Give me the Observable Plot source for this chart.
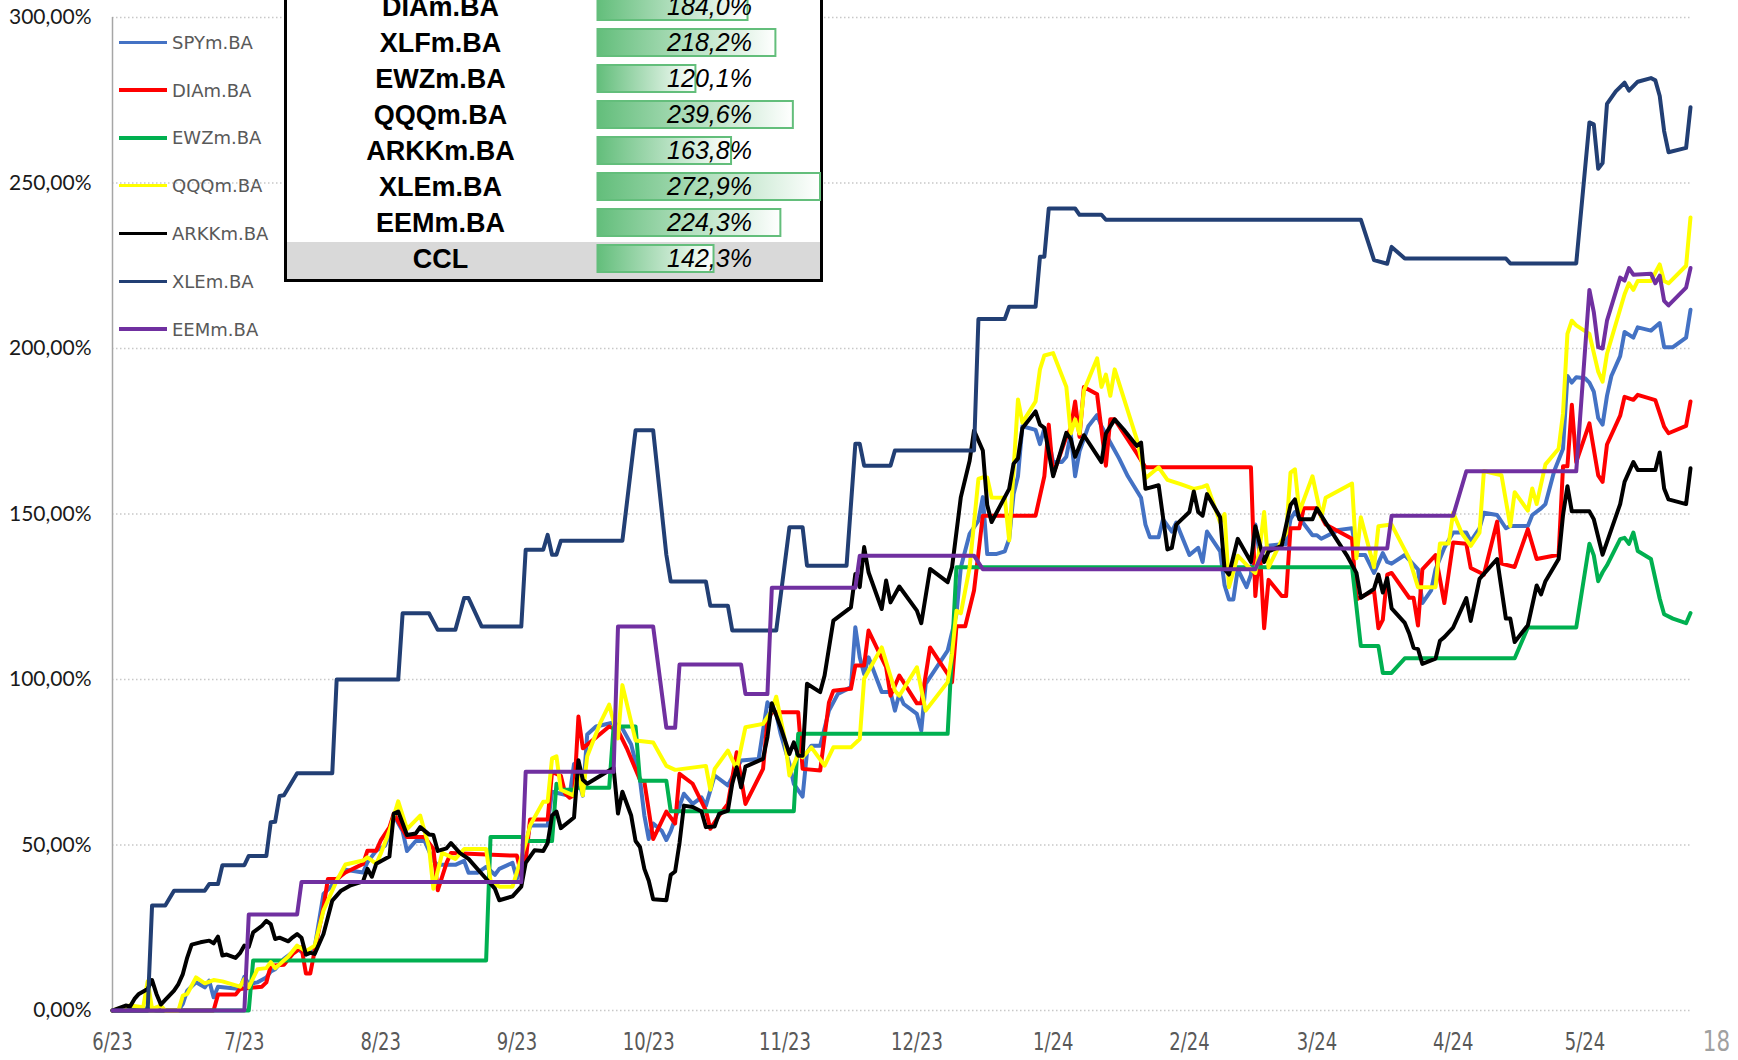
<!DOCTYPE html>
<html><head><meta charset="utf-8">
<script src="https://cdn.jsdelivr.net/npm/d3@7"></script>
<script src="https://cdn.jsdelivr.net/npm/@observablehq/plot@0.6"></script>
<style>
html,body{margin:0;padding:0;background:#fff;}
#wrap{position:relative;width:1738px;height:1060px;overflow:hidden;background:#fff;}
#chart{position:absolute;left:0;top:0;}
.lg-row{position:absolute;left:119px;height:24px;display:flex;align-items:center;}
.lg-line{width:48px;height:3.5px;margin-right:5px;}
.lg-text{font-family:"DejaVu Sans",sans-serif;font-size:18px;color:#595959;white-space:nowrap;}
#table{position:absolute;left:284px;top:-14px;width:533px;height:293px;background:#fff;border-left:3px solid #000;border-right:3px solid #000;border-bottom:3px solid #000;}
#cclRow{position:absolute;left:0;width:533px;top:256.4px;height:36.6px;background:#d9d9d9;}
#tplot{position:absolute;left:0;top:0;}
#pnum{position:absolute;right:8px;top:1025px;font-family:"DejaVu Sans Condensed","DejaVu Sans",sans-serif;font-size:28px;color:#a0a0a0;transform:scaleX(0.85);transform-origin:right center;}
</style>
</head><body>
<div id="wrap">
  <div id="chart"></div>
  <div id="legend"></div>
  <div id="table"><div id="cclRow"></div><div id="tplot"></div></div>
  <div id="pnum">18</div>
</div>
<script>
const seriesNames = ["SPYm.BA","DIAm.BA","EWZm.BA","QQQm.BA","ARKKm.BA","XLEm.BA","EEMm.BA"];
const seriesColors = ["#4472C4","#FF0000","#00B050","#FFFF00","#000000","#223F74","#7030A0"];
const monthTicks = ["2023-06-01","2023-07-01","2023-08-01","2023-09-01","2023-10-01","2023-11-01","2023-12-01","2024-01-01","2024-02-01","2024-03-01","2024-04-01","2024-05-01"];
const xDomain = ["2023-06-01","2024-05-25"];
const yTicks = [0,50,100,150,200,250,300];
const tableNames = ["DIAm.BA","XLFm.BA","EWZm.BA","QQQm.BA","ARKKm.BA","XLEm.BA","EEMm.BA","CCL"];
const tableValues = [184.0,218.2,120.1,239.6,163.8,272.9,224.3,142.3];

const spy = [["2023-06-01",0],["2023-06-06",1],["2023-06-09",0.5],["2023-06-11",0],["2023-06-16",0],["2023-06-17",2],["2023-06-18",6],["2023-06-20",8.5],["2023-06-22",7],["2023-06-23",9],["2023-06-24",4],["2023-06-25",7.2],["2023-06-30",6.5],["2023-07-01",10.2],["2023-07-02",8],["2023-07-04",8.5],["2023-07-06",10],["2023-07-07",11.8],["2023-07-08",12.5],["2023-07-10",15.6],["2023-07-13",18.6],["2023-07-15",16.9],["2023-07-17",19.1],["2023-07-19",35.2],["2023-07-22",39.2],["2023-07-24",42.5],["2023-07-28",41.7],["2023-07-29",44.8],["2023-07-31",48.3],["2023-08-02",49.8],["2023-08-03",53],["2023-08-04",59],["2023-08-06",54.2],["2023-08-07",48.2],["2023-08-09",51.2],["2023-08-11",51.2],["2023-08-13",45.2],["2023-08-14",44],["2023-08-18",44],["2023-08-20",45.2],["2023-08-21",41.6],["2023-08-23",41.6],["2023-08-25",43.4],["2023-08-27",41],["2023-08-28",42.8],["2023-08-31",44.6],["2023-09-01",39.8],["2023-09-02",43.4],["2023-09-04",55.9],["2023-09-08",55.9],["2023-09-09",66.1],["2023-09-11",65.5],["2023-09-13",64.9],["2023-09-14",74.5],["2023-09-16",64.9],["2023-09-17",83.4],["2023-09-19",85.8],["2023-09-23",87],["2023-09-25",85.2],["2023-09-27",80.4],["2023-09-29",69.7],["2023-09-30",58.9],["2023-10-01",51.8],["2023-10-02",56.5],["2023-10-04",54.2],["2023-10-05",51.5],["2023-10-06",54.2],["2023-10-09",65.5],["2023-10-11",62.4],["2023-10-13",64.4],["2023-10-14",61.9],["2023-10-16",71],["2023-10-19",68],["2023-10-21",73],["2023-10-22",75.5],["2023-10-26",76],["2023-10-27",84.6],["2023-10-28",93.1],["2023-10-30",89.6],["2023-10-31",83.6],["2023-11-02",74.5],["2023-11-03",68.5],["2023-11-05",64.6],["2023-11-06",78],["2023-11-07",80],["2023-11-09",80],["2023-11-11",90.6],["2023-11-13",95.6],["2023-11-16",97.7],["2023-11-17",115.8],["2023-11-18",106.7],["2023-11-19",101.7],["2023-11-20",106.7],["2023-11-22",99.7],["2023-11-23",96.2],["2023-11-25",96.2],["2023-11-26",90.6],["2023-11-27",95.6],["2023-11-28",92.6],["2023-12-01",89.6],["2023-12-02",84.6],["2023-12-03",98.7],["2023-12-05",102.7],["2023-12-08",108.7],["2023-12-10",119.8],["2023-12-11",133.9],["2023-12-13",144],["2023-12-15",148],["2023-12-16",155.1],["2023-12-17",137.9],["2023-12-19",137.9],["2023-12-21",138.7],["2023-12-22",142.5],["2023-12-23",156],["2023-12-24",161.4],["2023-12-25",176.5],["2023-12-28",175.4],["2023-12-29",171.1],["2023-12-30",175.9],["2023-12-31",172.2],["2024-01-01",165.7],["2024-01-03",165.7],["2024-01-04",167.3],["2024-01-05",174.3],["2024-01-06",161.4],["2024-01-07",168.9],["2024-01-09",176.5],["2024-01-11",179.9],["2024-01-12",176.5],["2024-01-14",171.6],["2024-01-16",166.8],["2024-01-18",161.4],["2024-01-21",154.9],["2024-01-22",146.8],["2024-01-23",143],["2024-01-25",143],["2024-01-26",148.4],["2024-01-28",144.7],["2024-01-29",147.4],["2024-02-01",137.6],["2024-02-03",139.8],["2024-02-04",135.5],["2024-02-05",144.7],["2024-02-08",138.7],["2024-02-09",128.5],["2024-02-10",124.2],["2024-02-11",124.2],["2024-02-12",133.3],["2024-02-14",127.9],["2024-02-15",131.7],["2024-02-16",146.8],["2024-02-17",137.6],["2024-02-19",140.4],["2024-02-22",140.9],["2024-02-23",140.9],["2024-02-24",148.4],["2024-02-25",150.6],["2024-02-29",143.6],["2024-03-01",143.6],["2024-03-02",142.5],["2024-03-06",145.2],["2024-03-09",145.7],["2024-03-10",137.6],["2024-03-12",137.6],["2024-03-14",132.2],["2024-03-16",138.2],["2024-03-17",135.5],["2024-03-18",135],["2024-03-21",137.6],["2024-03-24",133.3],["2024-03-25",123.1],["2024-03-27",126.9],["2024-03-28",133.3],["2024-03-30",139.8],["2024-04-01",144.4],["2024-04-04",144.4],["2024-04-05",141.7],["2024-04-07",145.7],["2024-04-08",150.4],["2024-04-11",149.7],["2024-04-13",145.7],["2024-04-14",146.4],["2024-04-18",146.4],["2024-04-19",149.7],["2024-04-21",151.7],["2024-04-22",153],["2024-04-24",163],["2024-04-26",169.7],["2024-04-27",191.7],["2024-04-28",189.7],["2024-04-29",191.3],["2024-05-01",191],["2024-05-02",189.7],["2024-05-03",187],["2024-05-04",179],["2024-05-05",177],["2024-05-06",185.7],["2024-05-07",191.7],["2024-05-09",197.7],["2024-05-10",205],["2024-05-12",203.3],["2024-05-13",206.4],["2024-05-16",205.4],["2024-05-18",207.7],["2024-05-19",200.4],["2024-05-21",200.4],["2024-05-24",203.3],["2024-05-25",211.7]];

const dia = [["2023-06-01",0],["2023-06-24",0],["2023-06-25",4.8],["2023-06-29",4.8],["2023-06-30",6.5],["2023-07-05",7.2],["2023-07-06",8.5],["2023-07-07",13.5],["2023-07-10",13.8],["2023-07-12",17.1],["2023-07-14",19.1],["2023-07-15",11.2],["2023-07-16",11.2],["2023-07-17",18.1],["2023-07-19",31.2],["2023-07-20",39.7],["2023-07-22",39.7],["2023-07-24",41.7],["2023-07-28",44.3],["2023-07-29",48.3],["2023-07-31",48.3],["2023-08-01",51.3],["2023-08-03",55.3],["2023-08-04",59.5],["2023-08-07",52.4],["2023-08-11",52.4],["2023-08-13",48.8],["2023-08-14",36.3],["2023-08-16",44.6],["2023-08-17",47.6],["2023-08-31",46.8],["2023-09-01",46.8],["2023-09-02",41],["2023-09-03",45],["2023-09-04",57.7],["2023-09-08",57.7],["2023-09-09",72.1],["2023-09-11",70.9],["2023-09-12",65.5],["2023-09-13",64.3],["2023-09-14",65],["2023-09-15",88.8],["2023-09-16",79.2],["2023-09-22",85.8],["2023-09-24",84.6],["2023-09-26",79.2],["2023-09-29",69.7],["2023-09-30",69.1],["2023-10-02",51.8],["2023-10-05",60.1],["2023-10-07",56.5],["2023-10-08",71.5],["2023-10-11",68.5],["2023-10-14",60.4],["2023-10-15",54.9],["2023-10-17",58.9],["2023-10-19",62.4],["2023-10-21",78],["2023-10-23",62.4],["2023-10-27",73],["2023-10-28",87.6],["2023-10-29",90.1],["2023-11-04",90.1],["2023-11-05",73],["2023-11-09",72.5],["2023-11-11",93.1],["2023-11-12",96.6],["2023-11-16",97.2],["2023-11-17",104.2],["2023-11-19",104.2],["2023-11-20",114.8],["2023-11-24",103.7],["2023-11-25",95.1],["2023-11-27",101.2],["2023-12-01",92.8],["2023-12-02",92.8],["2023-12-04",109.7],["2023-12-08",101.7],["2023-12-09",99.2],["2023-12-10",116.1],["2023-12-12",116.1],["2023-12-14",126.9],["2023-12-16",149.5],["2023-12-28",149.5],["2023-12-30",161.4],["2023-12-31",177],["2024-01-01",161.9],["2024-01-04",173.3],["2024-01-05",175.9],["2024-01-06",184],["2024-01-07",173.3],["2024-01-08",188.4],["2024-01-11",186.2],["2024-01-13",164.6],["2024-01-14",178.6],["2024-01-15",178.6],["2024-01-20",168.4],["2024-01-22",164.1],["2024-02-15",164.1],["2024-02-16",125.2],["2024-02-17",139.8],["2024-02-18",115.5],["2024-02-19",130.1],["2024-02-22",125.2],["2024-02-23",125.2],["2024-02-24",145.7],["2024-02-26",145.7],["2024-02-27",151.7],["2024-03-01",151.7],["2024-03-03",146.8],["2024-03-09",142.5],["2024-03-10",124.2],["2024-03-14",126.9],["2024-03-15",115.5],["2024-03-16",118],["2024-03-17",131.7],["2024-03-18",132.2],["2024-03-22",124.7],["2024-03-23",124.7],["2024-03-24",116.3],["2024-03-25",133.3],["2024-03-28",137.6],["2024-03-30",123.1],["2024-04-01",141.4],["2024-04-04",141],["2024-04-05",133.7],["2024-04-08",131.7],["2024-04-11",147.7],["2024-04-12",135],["2024-04-15",134],["2024-04-18",145.4],["2024-04-20",136.4],["2024-04-25",137.7],["2024-04-26",164.4],["2024-04-27",164.4],["2024-04-28",183],["2024-04-29",165.7],["2024-05-02",177.4],["2024-05-04",161.7],["2024-05-05",159.7],["2024-05-06",171],["2024-05-09",179.7],["2024-05-10",185.4],["2024-05-12",184.5],["2024-05-13",186],["2024-05-17",184.4],["2024-05-18",180.4],["2024-05-19",176.4],["2024-05-20",174.4],["2024-05-24",176.6],["2024-05-25",184]];

const ewz = [["2023-06-01",0],["2023-07-02",0],["2023-07-03",15.1],["2023-08-25",15.1],["2023-08-26",52.4],["2023-09-02",52.4],["2023-09-03",51.2],["2023-09-09",51.2],["2023-09-10",68.5],["2023-09-11",66.7],["2023-09-14",66.7],["2023-09-15",67.3],["2023-09-22",67.3],["2023-09-23",85.8],["2023-09-28",85.8],["2023-09-29",69.4],["2023-10-05",69.4],["2023-10-06",60.2],["2023-11-03",60.2],["2023-11-04",83.6],["2023-12-08",83.6],["2023-12-10",133.9],["2024-03-09",133.9],["2024-03-11",110.1],["2024-03-15",110.1],["2024-03-16",102],["2024-03-18",102],["2024-03-21",106.4],["2024-04-15",106.4],["2024-04-18",115.7],["2024-04-29",115.7],["2024-05-02",141],["2024-05-03",137.5],["2024-05-04",129.7],["2024-05-05",132.4],["2024-05-06",134.5],["2024-05-09",142.4],["2024-05-10",142.8],["2024-05-11",141],["2024-05-12",144.4],["2024-05-13",138.8],["2024-05-16",136.4],["2024-05-18",124.4],["2024-05-19",119.7],["2024-05-21",118.4],["2024-05-24",117],["2024-05-25",120.1]];

const qqq = [["2023-06-01",0],["2023-06-05",1.5],["2023-06-08",1],["2023-06-09",8.8],["2023-06-10",0.5],["2023-06-12",1.5],["2023-06-13",0],["2023-06-16",0],["2023-06-17",4.5],["2023-06-18",5],["2023-06-20",10],["2023-06-22",8.2],["2023-06-24",9.2],["2023-06-26",8.8],["2023-06-30",7.2],["2023-07-01",9.5],["2023-07-02",7],["2023-07-04",12.5],["2023-07-06",12.8],["2023-07-07",14.6],["2023-07-08",12.8],["2023-07-11",16.3],["2023-07-13",19.6],["2023-07-15",17.9],["2023-07-17",19.6],["2023-07-19",30.2],["2023-07-22",39.2],["2023-07-24",44.1],["2023-07-28",45.3],["2023-07-29",46.3],["2023-07-31",44.3],["2023-08-01",47.3],["2023-08-03",54.3],["2023-08-05",63.2],["2023-08-07",54.8],["2023-08-10",58.9],["2023-08-12",49.4],["2023-08-13",36.8],["2023-08-15",47.6],["2023-08-18",45.8],["2023-08-20",48.8],["2023-08-25",48.8],["2023-08-26",39.2],["2023-08-28",37.4],["2023-08-31",37.4],["2023-09-03",50.6],["2023-09-04",55.9],["2023-09-07",63.1],["2023-09-08",63.1],["2023-09-09",76.2],["2023-09-10",76.8],["2023-09-11",66.7],["2023-09-14",64.9],["2023-09-15",72.7],["2023-09-16",65],["2023-09-17",76.8],["2023-09-20",87],["2023-09-22",92.4],["2023-09-24",82.2],["2023-09-25",98.3],["2023-09-28",81.6],["2023-10-02",81],["2023-10-05",73.9],["2023-10-07",72.7],["2023-10-14",73.9],["2023-10-15",66.7],["2023-10-16",73],["2023-10-19",78.5],["2023-10-21",73],["2023-10-23",85.6],["2023-10-27",86.6],["2023-10-29",90.6],["2023-10-30",94.8],["2023-11-01",81.5],["2023-11-02",71],["2023-11-04",77.5],["2023-11-05",76.5],["2023-11-07",79.5],["2023-11-10",74],["2023-11-12",79.5],["2023-11-16",79.5],["2023-11-18",82],["2023-11-19",100.2],["2023-11-23",109.7],["2023-11-26",96.6],["2023-11-27",95.1],["2023-12-01",103.7],["2023-12-03",90.6],["2023-12-08",99.2],["2023-12-09",107.7],["2023-12-10",120.8],["2023-12-11",120],["2023-12-13",133.9],["2023-12-15",160.6],["2023-12-16",161.1],["2023-12-17",161],["2023-12-18",155],["2023-12-21",154.9],["2023-12-22",142],["2023-12-24",184.6],["2023-12-25",177.6],["2023-12-28",184],["2023-12-29",193.7],["2023-12-30",197.9],["2024-01-01",198.6],["2024-01-04",188.4],["2024-01-05",174.3],["2024-01-06",178.6],["2024-01-07",174.3],["2024-01-08",187.3],["2024-01-11",197],["2024-01-12",188.4],["2024-01-13",192.1],["2024-01-14",185.7],["2024-01-15",193.7],["2024-01-20",172.7],["2024-01-22",160.8],["2024-01-25",164.1],["2024-01-27",160.3],["2024-01-30",159],["2024-02-02",157.6],["2024-02-04",158.2],["2024-02-05",158.7],["2024-02-08",147.4],["2024-02-09",150],["2024-02-10",127.9],["2024-02-12",137.4],["2024-02-15",133.3],["2024-02-16",132.2],["2024-02-17",139.8],["2024-02-18",150.6],["2024-02-19",133.9],["2024-02-22",142],["2024-02-23",144.1],["2024-02-24",162.5],["2024-02-25",163.5],["2024-02-26",150.6],["2024-02-29",161.4],["2024-03-02",149],["2024-03-03",154.9],["2024-03-09",159.2],["2024-03-10",136.6],["2024-03-11",149],["2024-03-14",133.9],["2024-03-15",146.3],["2024-03-18",146.8],["2024-03-22",136.6],["2024-03-24",127.9],["2024-03-28",127.9],["2024-03-29",141.1],["2024-03-31",141.1],["2024-04-01",150.4],["2024-04-03",144.1],["2024-04-05",140.4],["2024-04-07",144.4],["2024-04-08",163],["2024-04-12",161.7],["2024-04-14",146.4],["2024-04-15",156.6],["2024-04-18",151],["2024-04-19",157.7],["2024-04-20",153],["2024-04-22",165],["2024-04-25",169.7],["2024-04-26",180.4],["2024-04-27",204.4],["2024-04-28",208.4],["2024-04-29",207],["2024-05-02",204.4],["2024-05-04",193],["2024-05-05",190],["2024-05-06",198.4],["2024-05-10",216.4],["2024-05-11",219.7],["2024-05-12",217.7],["2024-05-13",220.4],["2024-05-16",220.4],["2024-05-18",225.4],["2024-05-19",220.4],["2024-05-20",219.7],["2024-05-24",225],["2024-05-25",239.6]];

const arkk = [["2023-06-01",0],["2023-06-02",0.5],["2023-06-04",1.5],["2023-06-05",1.2],["2023-06-06",3.5],["2023-06-07",5],["2023-06-09",6.5],["2023-06-10",9.2],["2023-06-11",5],["2023-06-12",1.8],["2023-06-13",3.2],["2023-06-15",6],["2023-06-16",8],["2023-06-17",11],["2023-06-18",16],["2023-06-19",19.9],["2023-06-21",20.6],["2023-06-23",21.1],["2023-06-24",20.3],["2023-06-25",22.3],["2023-06-26",16.6],["2023-06-27",16.9],["2023-06-29",15.9],["2023-06-30",17.3],["2023-07-01",19.6],["2023-07-02",19.2],["2023-07-03",23.6],["2023-07-05",25.6],["2023-07-06",27.1],["2023-07-07",26.1],["2023-07-08",21.6],["2023-07-09",22],["2023-07-11",20.9],["2023-07-12",22.1],["2023-07-13",23.1],["2023-07-14",22],["2023-07-15",16.9],["2023-07-16",17.4],["2023-07-17",17.1],["2023-07-19",23.1],["2023-07-20",28.2],["2023-07-21",33.2],["2023-07-23",36.2],["2023-07-25",37.7],["2023-07-28",39],["2023-07-29",42.8],["2023-07-30",40.4],["2023-07-31",44.3],["2023-08-03",46.5],["2023-08-04",59.5],["2023-08-05",60.1],["2023-08-07",53],["2023-08-09",53.5],["2023-08-10",55.4],["2023-08-12",53.2],["2023-08-13",53],["2023-08-14",48.2],["2023-08-16",49],["2023-08-17",50.6],["2023-08-19",47.6],["2023-08-21",45.8],["2023-08-23",42.8],["2023-08-25",39.8],["2023-08-27",36.8],["2023-08-28",33.3],["2023-08-31",34.5],["2023-09-02",37.4],["2023-09-03",44.6],["2023-09-05",48.4],["2023-09-07",48.2],["2023-09-08",50.6],["2023-09-09",58.9],["2023-09-10",60.1],["2023-09-11",55.1],["2023-09-14",58.3],["2023-09-15",75.6],["2023-09-16",69.7],["2023-09-17",68.5],["2023-09-20",70.9],["2023-09-23",73.3],["2023-09-24",59.5],["2023-09-25",66.1],["2023-09-27",58.9],["2023-09-28",51.2],["2023-09-29",49.4],["2023-09-30",42.8],["2023-10-01",39.2],["2023-10-02",33.6],["2023-10-05",33.3],["2023-10-06",41],["2023-10-07",42],["2023-10-08",50.6],["2023-10-09",61.9],["2023-10-11",61.5],["2023-10-13",60.1],["2023-10-14",55.4],["2023-10-16",55.6],["2023-10-17",59.4],["2023-10-19",60.4],["2023-10-20",68.5],["2023-10-21",73.5],["2023-10-22",67.4],["2023-10-23",73.7],["2023-10-27",76],["2023-10-28",82.6],["2023-10-29",92.8],["2023-10-31",85.6],["2023-11-02",77.5],["2023-11-03",81],["2023-11-04",77],["2023-11-05",77],["2023-11-06",98.7],["2023-11-09",96.2],["2023-11-10",101.2],["2023-11-12",117.8],["2023-11-16",121.8],["2023-11-17",131.9],["2023-11-18",127.9],["2023-11-19",140],["2023-11-20",132.4],["2023-11-23",121.3],["2023-11-24",129.9],["2023-11-25",123.3],["2023-11-27",128.1],["2023-12-01",120.8],["2023-12-02",117],["2023-12-04",133.4],["2023-12-08",129.4],["2023-12-09",133.9],["2023-12-11",155.1],["2023-12-13",166.1],["2023-12-14",175.2],["2023-12-16",169.2],["2023-12-17",152.7],["2023-12-18",147.6],["2023-12-22",157.6],["2023-12-23",165.2],["2023-12-24",166.8],["2023-12-25",175.9],["2023-12-28",181],["2023-12-29",177],["2023-12-30",176],["2024-01-01",161.4],["2024-01-04",174.5],["2024-01-05",172.7],["2024-01-06",167.3],["2024-01-08",173.8],["2024-01-12",165.7],["2024-01-13",174.3],["2024-01-15",178.6],["2024-01-17",175.6],["2024-01-20",170.6],["2024-01-21",171.6],["2024-01-22",157.6],["2024-01-25",158.7],["2024-01-27",139.3],["2024-01-28",139.8],["2024-01-29",146.8],["2024-02-01",150.6],["2024-02-02",156.8],["2024-02-03",150.6],["2024-02-04",149.5],["2024-02-05",156],["2024-02-08",149],["2024-02-09",133.3],["2024-02-10",131.7],["2024-02-12",142.5],["2024-02-15",135.5],["2024-02-16",146.3],["2024-02-17",141],["2024-02-18",135.5],["2024-02-19",138.7],["2024-02-22",140.4],["2024-02-24",152.7],["2024-02-25",154.4],["2024-02-26",148.4],["2024-02-29",148.4],["2024-03-01",151.7],["2024-03-03",147.4],["2024-03-08",137.1],["2024-03-10",132.2],["2024-03-11",124.7],["2024-03-14",127.4],["2024-03-15",131.7],["2024-03-16",126.3],["2024-03-17",130.6],["2024-03-18",121.5],["2024-03-21",117.1],["2024-03-22",113.9],["2024-03-23",109.6],["2024-03-24",109.2],["2024-03-25",104.7],["2024-03-28",106.3],["2024-03-29",111.7],["2024-03-30",112.8],["2024-04-01",115.7],["2024-04-04",124.6],["2024-04-05",117.7],["2024-04-07",130.4],["2024-04-11",136.4],["2024-04-13",118.4],["2024-04-14",118.4],["2024-04-15",111.3],["2024-04-18",116.4],["2024-04-20",128.4],["2024-04-21",125.7],["2024-04-22",129.7],["2024-04-25",136.4],["2024-04-26",149.7],["2024-04-27",158.4],["2024-04-28",150.8],["2024-05-02",150.8],["2024-05-03",148.4],["2024-05-05",137.7],["2024-05-09",153],["2024-05-10",159.7],["2024-05-12",165.7],["2024-05-13",163.3],["2024-05-17",163.3],["2024-05-18",168.6],["2024-05-19",157.7],["2024-05-20",154.4],["2024-05-24",153],["2024-05-25",163.8]];

const xle = [["2023-06-01",0],["2023-06-09",0],["2023-06-10",31.7],["2023-06-13",31.7],["2023-06-15",36.2],["2023-06-22",36.2],["2023-06-23",38.2],["2023-06-25",38.2],["2023-06-26",43.9],["2023-07-01",43.9],["2023-07-02",46.7],["2023-07-06",46.7],["2023-07-07",56.9],["2023-07-08",57],["2023-07-09",64.8],["2023-07-10",65],["2023-07-13",71.7],["2023-07-21",71.7],["2023-07-22",100],["2023-08-05",100],["2023-08-06",120],["2023-08-12",120],["2023-08-14",115],["2023-08-18",115],["2023-08-20",124.6],["2023-08-21",124.6],["2023-08-24",116],["2023-09-02",116],["2023-09-03",139.2],["2023-09-07",139.2],["2023-09-08",143.7],["2023-09-09",137.7],["2023-09-10",137.7],["2023-09-11",141.9],["2023-09-25",141.9],["2023-09-28",175.3],["2023-10-02",175.3],["2023-10-05",137.7],["2023-10-06",129.6],["2023-10-14",129.6],["2023-10-15",122.3],["2023-10-19",122.3],["2023-10-20",114.8],["2023-10-30",114.8],["2023-11-02",146],["2023-11-05",146],["2023-11-06",134.4],["2023-11-15",134.4],["2023-11-17",171.2],["2023-11-18",171.2],["2023-11-19",164.6],["2023-11-25",164.6],["2023-11-26",169.2],["2023-12-14",169.2],["2023-12-15",208.9],["2023-12-21",208.9],["2023-12-22",212.6],["2023-12-28",212.6],["2023-12-29",227.7],["2023-12-30",227.7],["2023-12-31",242.3],["2024-01-06",242.3],["2024-01-07",240.4],["2024-01-12",240.4],["2024-01-13",238.9],["2024-03-11",238.9],["2024-03-14",226.7],["2024-03-17",225.6],["2024-03-18",230.7],["2024-03-21",227.2],["2024-04-13",227.2],["2024-04-14",225.7],["2024-04-29",225.7],["2024-05-02",268.3],["2024-05-03",267.7],["2024-05-04",254.3],["2024-05-05",256],["2024-05-06",273.9],["2024-05-08",277.7],["2024-05-10",280.3],["2024-05-11",277.9],["2024-05-13",280.6],["2024-05-16",281.7],["2024-05-17",281],["2024-05-18",276.3],["2024-05-19",265.7],["2024-05-20",259.3],["2024-05-24",260.6],["2024-05-25",272.9]];

const eem = [["2023-06-01",0],["2023-07-01",0],["2023-07-02",29],["2023-07-13",29],["2023-07-14",38.8],["2023-09-02",38.8],["2023-09-03",72.1],["2023-09-23",72.1],["2023-09-24",116],["2023-10-02",116],["2023-10-05",85.4],["2023-10-07",85.4],["2023-10-08",104.5],["2023-10-22",104.5],["2023-10-23",95.6],["2023-10-28",95.6],["2023-10-29",127.7],["2023-11-17",127.7],["2023-11-18",137.4],["2023-12-14",137.4],["2023-12-16",133.3],["2024-02-16",133.3],["2024-02-18",139.6],["2024-03-17",139.6],["2024-03-18",149.5],["2024-04-01",149.5],["2024-04-04",162.9],["2024-04-29",162.9],["2024-05-02",217.7],["2024-05-03",211],["2024-05-04",200.4],["2024-05-05",200],["2024-05-06",208.4],["2024-05-09",221.4],["2024-05-10",220.5],["2024-05-11",224.3],["2024-05-12",222.3],["2024-05-16",222.6],["2024-05-17",219.7],["2024-05-18",222],["2024-05-19",214.4],["2024-05-20",213],["2024-05-24",218.4],["2024-05-25",224.3]];

const seriesData = [spy, dia, ewz, qqq, arkk, xle, eem];
const rows = arr => arr.map(([d, v]) => ({date: new Date(d), value: v}));
const pct2 = v => v.toFixed(2).replace(".", ",") + "%";
const pct1 = v => v.toFixed(1).replace(".", ",") + "%";
const monthFmt = d => `${d.getUTCMonth() + 1}/${String(d.getUTCFullYear()).slice(2)}`;

const chart = Plot.plot({
  width: 1738, height: 1060,
  marginLeft: 112, marginRight: 48, marginTop: 17, marginBottom: 50,
  style: {background: "transparent", overflow: "visible"},
  x: {type: "utc", domain: xDomain.map(d => new Date(d))},
  y: {domain: [0, 300]},
  marks: [
    Plot.ruleY(yTicks, {stroke: "#c8c8c8", strokeWidth: 1.3, strokeDasharray: "1.5,2.5"}),
    Plot.ruleX([new Date(xDomain[0])], {stroke: "#a6a6a6", strokeWidth: 1.5}),
    Plot.axisY(yTicks, {tickFormat: pct2, tickSize: 0, tickPadding: 21, label: null, fontSize: 21, fontFamily: "Lato, 'Open Sans', sans-serif", color: "#1a1a1a"}),
    Plot.axisX(monthTicks.map(d => new Date(d)), {tickFormat: monthFmt, tickSize: 0, tickPadding: 22, label: null, fontSize: 25, fontFamily: "'Liberation Sans Narrow', 'DejaVu Sans Condensed', sans-serif", color: "#595959"}),
    ...seriesData.map((s, i) => Plot.line(rows(s), {x: "date", y: "value", stroke: seriesColors[i], strokeWidth: 4, strokeLinejoin: "round", strokeLinecap: "round"}))
  ]
});
document.getElementById("chart").appendChild(chart);
// condense the month labels (narrow face, as in the original)
d3.select(chart).selectAll('g[aria-label="x-axis tick label"] text').each(function () {
  const w = this.getComputedTextLength();
  if (w > 0) { this.setAttribute("textLength", (w * 0.8).toFixed(1)); this.setAttribute("lengthAdjust", "spacingAndGlyphs"); }
});

// legend
const lg = document.getElementById("legend");
seriesNames.forEach((n, i) => {
  const r = document.createElement("div");
  r.className = "lg-row";
  r.style.top = (42.3 + 47.8 * i - 12) + "px";
  r.innerHTML = `<div class="lg-line" style="background:${seriesColors[i]}"></div><span class="lg-text">${n}</span>`;
  lg.appendChild(r);
});

// summary table with data bars
const tableRows = tableNames.map((n, i) => ({name: n, value: tableValues[i]}));
const tbl = Plot.plot({
  width: 533, height: 293, margin: 0,
  style: {background: "transparent", overflow: "visible"},
  x: {domain: [0, d3.max(tableValues)], range: [310.5, 533], axis: null},
  y: {type: "band", domain: tableNames, paddingInner: 0.24, paddingOuter: 0.12, axis: null},
  marks: [
    Plot.barX(tableRows, {x: "value", y: "name", fill: "url(#dbGrad)", stroke: "#63BE7B", strokeWidth: 2}),
    Plot.text(tableRows, {y: "name", text: "name", frameAnchor: "left", dx: 153, textAnchor: "middle", fontSize: 27, fontWeight: "bold", fontFamily: "'Liberation Sans', Arial, sans-serif", fill: "#000"}),
    Plot.text(tableRows, {y: "name", text: d => pct1(d.value), frameAnchor: "left", dx: 422, textAnchor: "middle", fontSize: 25, fontStyle: "italic", fontFamily: "'Liberation Sans', Arial, sans-serif", fill: "#000"})
  ]
});
d3.select(tbl).insert("defs", ":first-child").html(
  `<linearGradient id="dbGrad" x1="0" x2="1" y1="0" y2="0"><stop offset="0" stop-color="#63BE7B"/><stop offset="1" stop-color="#ffffff"/></linearGradient>`);
document.getElementById("tplot").appendChild(tbl);
</script>
</body></html>
